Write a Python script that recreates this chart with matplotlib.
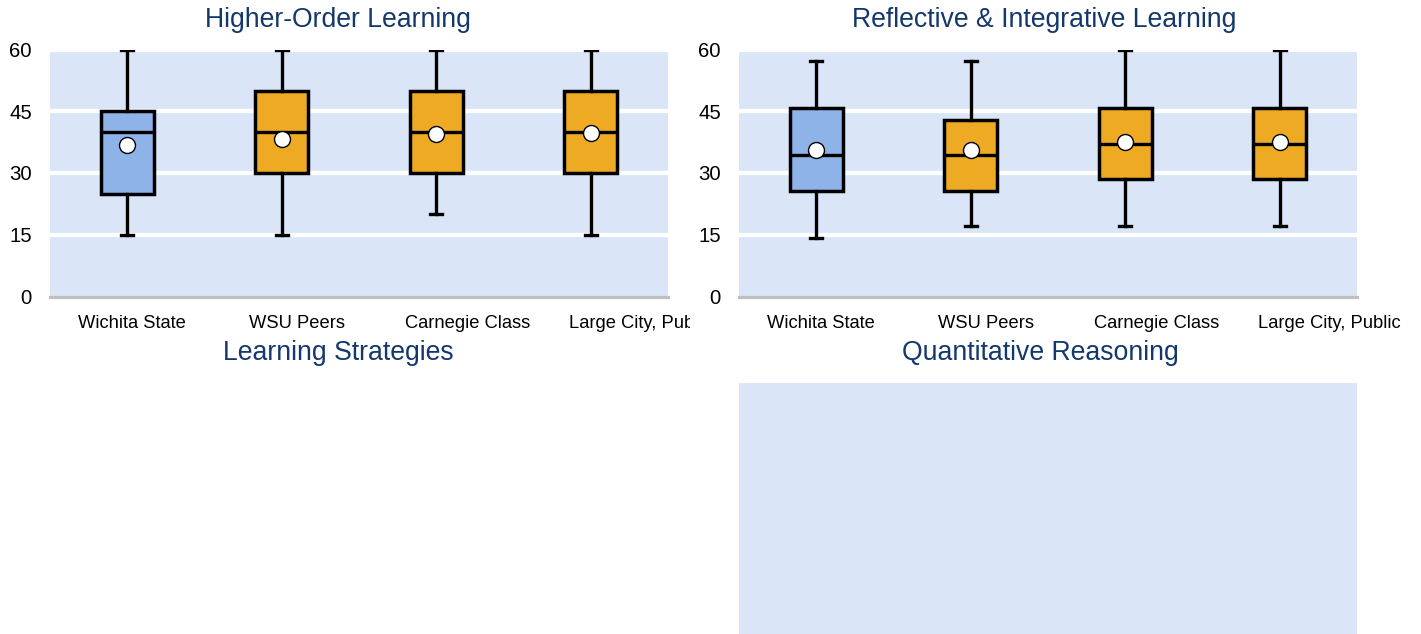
import numpy as np
import matplotlib
matplotlib.use("Agg")
import matplotlib.pyplot as plt
from matplotlib.transforms import Bbox, TransformedBbox

plt.rcParams['font.family'] = ['Liberation Sans', 'DejaVu Sans']

categories = ["Wichita State", "WSU Peers", "Carnegie Class", "Large City, Public"]

# Higher-Order Learning
hol_low = [15, 15, 20, 15]
hol_q1 = [25, 30, 30, 30]
hol_med = [40, 40, 40, 40]
hol_q3 = [45, 50, 50, 50]
hol_high = [60, 60, 60, 60]
hol_mean = [36.9, 38.3, 39.4, 39.6]

# Reflective & Integrative Learning
ril_low = [14.3, 17.1, 17.1, 17.1]
ril_q1 = [25.7, 25.7, 28.6, 28.6]
ril_med = [34.3, 34.3, 37.1, 37.1]
ril_q3 = [45.7, 42.9, 45.7, 45.7]
ril_high = [57.1, 57.1, 60, 60]
ril_mean = [35.6, 35.7, 37.5, 37.5]

yticks = [0, 15, 30, 45, 60]

titles = ["Higher-Order Learning", "Reflective & Integrative Learning",
          "Learning Strategies", "Quantitative Reasoning"]

BG = '#DAE6F8'
BLUE = '#8EB3E9'
ORANGE = '#EFAA24'
TITLE_C = '#14386B'
label_pos = [0.03, 1.10, 2.20, 3.32]

W, H = 1421, 634
fig = plt.figure(figsize=(W / 100, H / 100), dpi=100)


def px_axes(x0, y0, x1, y1):
    return fig.add_axes([x0 / W, 1 - y1 / H, (x1 - x0) / W, (y1 - y0) / H])


def draw_box(ax, low, q1, med, q3, high, mean):
    stats = []
    for i in range(len(categories)):
        stats.append(dict(whislo=low[i], q1=q1[i], med=med[i], q3=q3[i],
                          whishi=high[i], mean=mean[i], fliers=[]))
    bp = ax.bxp(stats, positions=range(len(categories)), widths=0.34,
                capwidths=0.08, patch_artist=True, showmeans=True,
                showfliers=False,
                boxprops=dict(edgecolor='black', linewidth=2.5),
                medianprops=dict(color='black', linewidth=2.4),
                whiskerprops=dict(color='black', linewidth=2.4),
                capprops=dict(color='black', linewidth=2.4),
                meanprops=dict(marker='o', markerfacecolor='white',
                               markeredgecolor='black', markeredgewidth=1,
                               markersize=11.5))
    for i, patch in enumerate(bp['boxes']):
        patch.set_facecolor(BLUE if i == 0 else ORANGE)
    for m in bp['means']:
        m.set_zorder(5)

    ax.set_facecolor(BG)
    ax.set_xlim(-0.5, len(categories) - 0.5)
    ax.set_ylim(0, 60)
    ax.set_yticks(yticks)
    ax.set_yticklabels([str(t) for t in yticks], fontsize=14.7)
    ax.set_xticks(label_pos)
    ax.set_xticklabels(categories, fontsize=13.2)
    ax.tick_params(axis='both', length=0)
    ax.tick_params(axis='y', pad=13)
    ax.tick_params(axis='x', pad=13)
    ax.grid(False)
    for g in [15, 30, 45, 60]:
        ax.axhline(g, color='white', linewidth=3, zorder=1)
    for s in ['top', 'right', 'left']:
        ax.spines[s].set_visible(False)
    ax.spines['bottom'].set_color('#BFBFBF')
    ax.spines['bottom'].set_linewidth(2.3)
    ax.set_axisbelow(True)


ax1 = px_axes(50, 49.5, 668, 296.5)
draw_box(ax1, hol_low, hol_q1, hol_med, hol_q3, hol_high, hol_mean)

ax2 = px_axes(739, 49.5, 1357, 296.5)
draw_box(ax2, ril_low, ril_q1, ril_med, ril_q3, ril_high, ril_mean)

# left panel labels are cut at the panel edge
clip = TransformedBbox(Bbox.from_extents(0, 0, 690 / W, 1), fig.transFigure)
for lab in ax1.get_xticklabels():
    lab.set_clip_box(clip)
    lab.set_clip_on(True)

ax4 = px_axes(739, 382.5, 1357, 640)
ax4.set_facecolor(BG)
ax4.set_xticks([])
ax4.set_yticks([])
for s in ax4.spines.values():
    s.set_visible(False)

fig.text(338 / W, 1 - 20 / H, titles[0], ha='center', va='center', fontsize=19.2, color=TITLE_C)
fig.text(1044 / W, 1 - 20 / H, titles[1], ha='center', va='center', fontsize=19.2, color=TITLE_C)
fig.text(338 / W, 1 - 353 / H, titles[2], ha='center', va='center', fontsize=19.2, color=TITLE_C)
fig.text(1040 / W, 1 - 353 / H, titles[3], ha='center', va='center', fontsize=19.2, color=TITLE_C)

fig.savefig("out.png", dpi=100)
